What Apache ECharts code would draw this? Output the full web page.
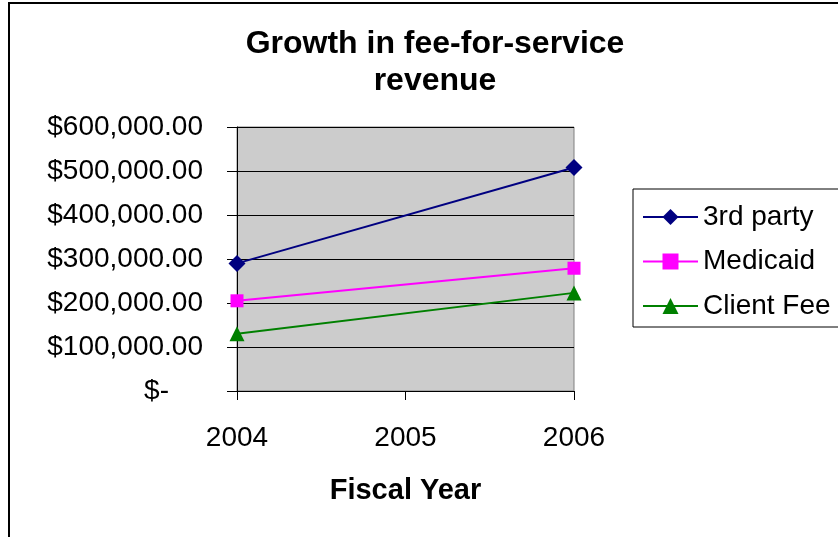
<!DOCTYPE html>
<html>
<head>
<meta charset="utf-8">
<script src="https://cdn.jsdelivr.net/npm/echarts@6/dist/echarts.min.js"></script>
<style>
  html, body { margin: 0; padding: 0; background: #fff; }
  #chart { width: 838px; height: 537px; }
</style>
</head>
<body>
<div id="chart"></div>
<script>
// fiscal years on the x axis; 2005 has no value, the lines just pass it
var years = ['2004', '2005', '2006'];
var thirdParty = [290000, null, 508000];
var medicaid = [205000, null, 279000];
var clientFee = [130000, null, 223000];
var seriesNames = ['3rd party', 'Medicaid', 'Client Fee'];

var FONT = '"Liberation Sans", Arial, sans-serif';

function money(v) {
    if (v === 0) return '{zero|$-}';
    return '$' + v.toLocaleString('en-US', { minimumFractionDigits: 2, maximumFractionDigits: 2 });
}

var chart = echarts.init(document.getElementById('chart'));

var op = {
    animation: false,
    backgroundColor: '#fff',
    textStyle: { fontFamily: FONT },
    title: {
        text: 'Growth in fee-for-service\nrevenue',
        left: 430,
        textAlign: 'center',
        top: 21,
        textStyle: {
            fontFamily: FONT,
            fontSize: 32,
            fontWeight: 'bold',
            color: '#000',
            lineHeight: 37
        }
    },
    legend: {
        orient: 'vertical',
        left: 633,
        top: 189,
        padding: [14, 20, 7, 9],
        itemGap: 16.5,
        itemWidth: 55,
        itemHeight: 20,
        borderColor: '#000',
        borderWidth: 1,
        data: seriesNames,
        textStyle: { fontFamily: FONT, fontSize: 28, color: '#000', lineHeight: 28 }
    },
    graphic: [{
        type: 'rect',
        shape: { x: 9, y: 3, width: 1000, height: 700 },
        style: { fill: null, stroke: '#000', lineWidth: 2 },
        silent: true
    }],
    grid: {
        left: 237,
        right: 264,
        top: 127,
        bottom: 146,
        show: true,
        backgroundColor: '#cccccc',
        borderColor: '#808080',
        borderWidth: 1
    },
    xAxis: {
        type: 'category',
        data: years,
        boundaryGap: false,
        name: 'Fiscal Year',
        nameLocation: 'middle',
        nameGap: 85,
        nameTextStyle: { fontFamily: FONT, fontSize: 29, fontWeight: 'bold', color: '#000' },
        axisLine: { lineStyle: { color: '#000', width: 1 } },
        axisTick: { show: true, inside: false, length: 9, alignWithLabel: true, lineStyle: { color: '#000' } },
        axisLabel: { fontFamily: FONT, fontSize: 28, color: '#000', margin: 33 },
        splitLine: { show: false }
    },
    yAxis: {
        type: 'value',
        min: 0,
        max: 600000,
        interval: 100000,
        axisLine: { show: true, lineStyle: { color: '#000', width: 1 } },
        axisTick: { show: true, inside: false, length: 10, lineStyle: { color: '#000' } },
        axisLabel: {
            fontFamily: FONT,
            fontSize: 28,
            color: '#000',
            margin: 34,
            formatter: money,
            rich: {
                zero: { fontFamily: FONT, fontSize: 28, color: '#000', padding: [0, 34, 0, 0] }
            }
        },
        splitLine: { show: true, lineStyle: { color: '#000', width: 1 } }
    },
    series: [
        {
            name: seriesNames[0],
            type: 'line',
            data: thirdParty,
            connectNulls: true,
            symbol: 'diamond',
            symbolSize: 17,
            itemStyle: { color: '#000080' },
            lineStyle: { color: '#000080', width: 2 }
        },
        {
            name: seriesNames[1],
            type: 'line',
            data: medicaid,
            connectNulls: true,
            symbol: 'rect',
            symbolSize: 13,
            itemStyle: { color: '#ff00ff' },
            lineStyle: { color: '#ff00ff', width: 2 }
        },
        {
            name: seriesNames[2],
            type: 'line',
            data: clientFee,
            connectNulls: true,
            symbol: 'triangle',
            symbolSize: 15,
            itemStyle: { color: '#008000' },
            lineStyle: { color: '#008000', width: 2 }
        }
    ]
};

chart.setOption(op);
</script>
</body>
</html>
